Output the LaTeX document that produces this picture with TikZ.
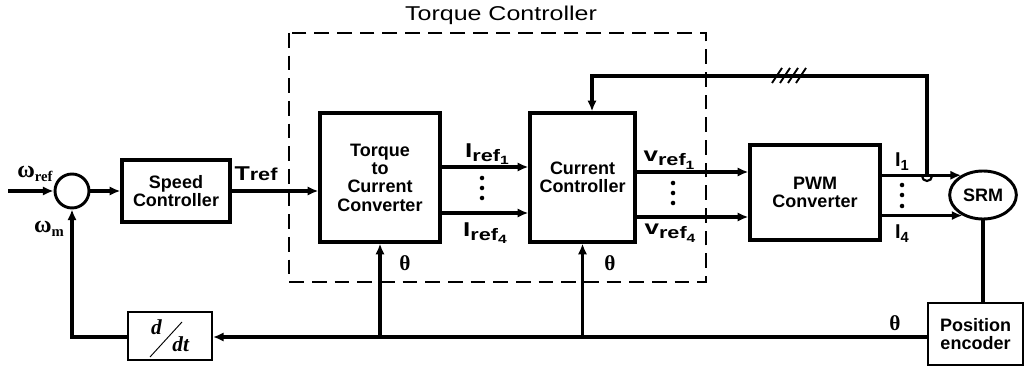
\documentclass[tikz,border=0pt]{standalone}
\usepackage{fontspec}
\usepackage{graphicx}
\setmainfont{Liberation Sans}
\newfontfamily\grkfont{Liberation Serif}
\usetikzlibrary{shapes.geometric, arrows.meta}

% small helpers for the indexed labels
\newcommand{\subtxt}[2]{\raisebox{-0.4ex}{\fontsize{#1}{#1}\selectfont #2}}
\newcommand{\reflbl}[2]{\scalebox{1.3}[1]{#1\subtxt{12.5}{ref\subtxt{9}{#2}}}}

\tikzset{
	blk/.style={draw, line width=2.5pt, inner sep=0pt, align=center, font=\fontsize{13.5}{13.8}\selectfont\bfseries},
	thinblk/.style={blk, line width=1.5pt},
	sig/.style={line width=2.4pt},
	arr/.style={sig, -{Latex[length=8pt, width=7pt]}},
	lbl/.style={inner sep=0pt, font=\fontsize{15}{15}\selectfont\bfseries},
	grk/.style={inner sep=0pt, font=\fontsize{16}{16}\grkfont\bfseries},
}

\begin{document}
\begin{tikzpicture}[x=0.75pt, y=-0.75pt]
			\useasboundingbox (0,0) rectangle (1028,370);
			% blocks
			\node[draw, circle, line width=2.2pt, minimum size=25.5pt, inner sep=0pt](sum) at (72, 191){};
			\node[blk, minimum width=81pt, minimum height=46.5pt](speed) at (176, 191){Speed\\Controller};
			\node[blk, minimum width=90pt, minimum height=96.75pt](torque) at (380, 177.5){Torque\\to\\Current\\Converter};
			\node[blk, minimum width=78.75pt, minimum height=96.75pt](current) at (582.5, 177.5){Current\\Controller};
			\node[blk, minimum width=97.5pt, minimum height=71.25pt](pwm) at (815, 192.5){PWM\\Converter};
			\node[blk, ellipse, line width=2.2pt, minimum width=50pt, minimum height=36pt](srm) at (983, 195){SRM};
			\node[thinblk, minimum width=71.25pt, minimum height=46.5pt](enc) at (975.5, 334){Position\\encoder};
			\node[thinblk, minimum width=63pt, minimum height=35.25pt, font=\fontsize{16}{16}\grkfont\bfseries\itshape](ddt) at (170, 336){\raisebox{5pt}{d}\hspace{8pt}\raisebox{-8pt}{dt}};
			\draw[line width=0.7pt] (ddt.center) ++(-20, 21) -- ++(32, -35);
			% torque controller frame
			\draw[line width=1.4pt, dash pattern={on 11pt off 6pt}] (289, 33) rectangle (706, 282);
			\node[inner sep=0pt, font=\fontsize{15}{15}\selectfont](ttl) at (501, 15){\scalebox{1.25}[1]{Torque Controller}};
			% rows
			\coordinate (in) at (8, 191);
			\coordinate (ia) at (0, 167);
			\coordinate (ib) at (0, 213);
			\coordinate (va) at (0, 172);
			\coordinate (vb) at (0, 217);
			\coordinate (bot) at (0, 337);
			\coordinate (tap) at (927, 176);
			\coordinate (fbtop) at (592, 76);
			% forward path
			\draw[arr] (in) -- (sum.west);
			\draw[arr] (sum.east) -- (speed.west);
			\draw[arr] (speed.east) -- (torque.west |- speed.east);
			\draw[arr] (torque.east |- ia) -- (current.west |- ia);
			\draw[arr] (torque.east |- ib) -- (current.west |- ib);
			\draw[arr] (current.east |- va) -- (pwm.west |- va);
			\draw[arr] (current.east |- vb) -- (pwm.west |- vb);
			\draw[arr] (pwm.east |- srm.138) -- (srm.138);
			\draw[arr] (pwm.east |- srm.225) -- (srm.225);
			% current feedback
			\draw[arr] (tap) -- (tap |- fbtop) -- (fbtop) -- (fbtop |- current.north);
			\draw[line width=1.6pt] (tap) ++(-5, 0) arc[start angle=180, end angle=360, radius=3.75pt];
			\foreach \x in {772, 780, 788, 796}
				\draw[line width=1.4pt] (\x, 83) -- ++(10, -15);
			% position feedback
			\draw[sig] (srm.south) -- (srm.south |- enc.north);
			\draw[arr] (enc.west |- bot) -- (ddt.east |- bot);
			\draw[arr] (ddt.west |- bot) -| (sum.south);
			\draw[arr] (torque.south |- bot) -- (torque.south);
			\draw[arr] (current.south |- bot) -- (current.south);
			% dots
			\foreach \y in {178, 188, 198}
				\fill (482, \y) circle (1.7pt);
			\foreach \y in {183, 193, 203}
				\fill (673, \y) circle (1.7pt);
			\foreach \y in {185, 195, 206}
				\fill (902, \y) circle (1.7pt);
			% labels
			\node[grk, font=\fontsize{18}{18}\grkfont\bfseries](wref) at (35, 174){ω\subtxt{11}{ref}};
			\node[grk, font=\fontsize{18}{18}\grkfont\bfseries](wm) at (49, 229){ω\subtxt{11}{m}};
			\node[lbl](tref) at (256, 174){\scalebox{1.25}[1]{T{\fontsize{13}{13}\selectfont ref}}};
			\node[lbl](ir1) at (487, 154){\reflbl{I}{1}};
			\node[lbl](ir4) at (485, 233){\reflbl{I}{4}};
			\node[lbl](vr1) at (669, 160){\reflbl{v}{1}};
			\node[lbl](vr4) at (670, 233){\reflbl{v}{4}};
			\node[lbl](i1) at (902, 162){I\subtxt{11}{1}};
			\node[lbl](i4) at (902, 234){I\subtxt{11}{4}};
			\node[grk](th1) at (405, 263){θ};
			\node[grk](th2) at (610, 263){θ};
			\node[grk](th3) at (895, 323){θ};
		\end{tikzpicture}
\end{document}
